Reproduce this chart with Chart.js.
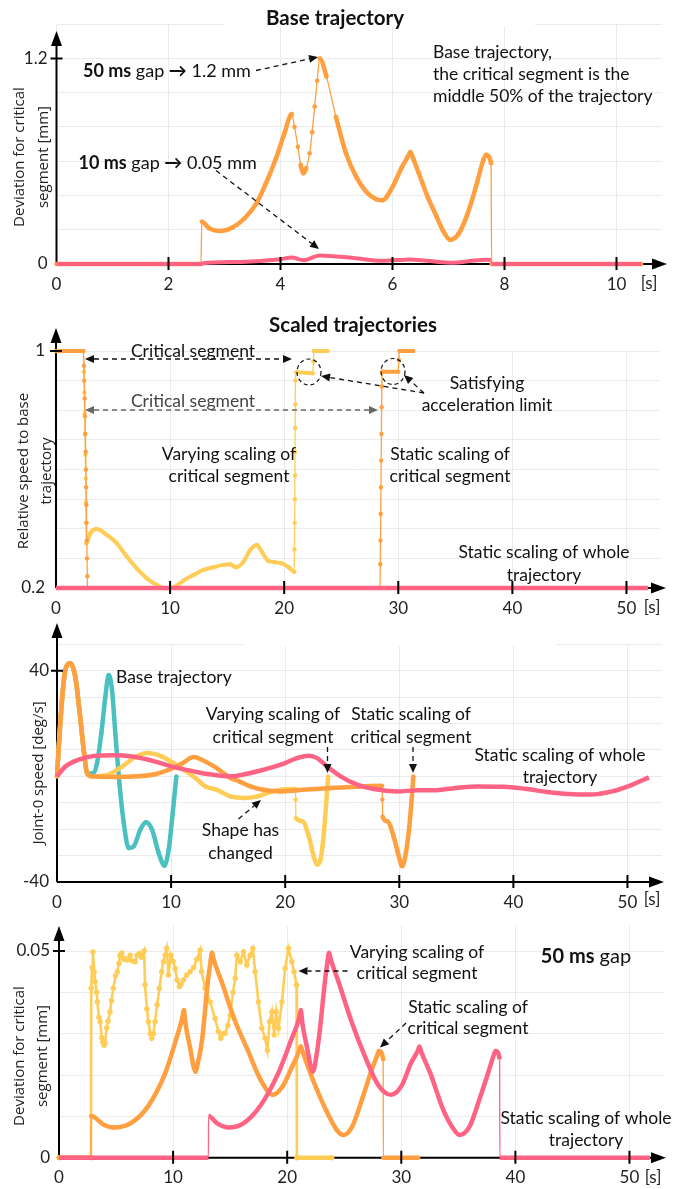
<!DOCTYPE html>
<html>
<head>
<meta charset="utf-8">
<script src="https://cdn.jsdelivr.net/npm/chart.js@4.4.1/dist/chart.umd.min.js"></script>
<style>
  html, body { margin: 0; padding: 0; background: #fff; }
  #wrap { position: relative; width: 675px; height: 1189px; overflow: hidden; background: #fff; }
  #wrap canvas { position: absolute; left: 0; }
</style>
</head>
<body>
<div id="wrap">
  <canvas id="c1" width="675" height="305" style="top:0px"></canvas>
  <canvas id="c2" width="675" height="320" style="top:300px"></canvas>
  <canvas id="c3" width="675" height="305" style="top:605px"></canvas>
  <canvas id="c4" width="675" height="289" style="top:900px"></canvas>
</div>
<script>
// ---------- tick values and labels ----------
const baseTimeTicks = [0, 2, 4, 6, 8, 10];
const scaledTimeTicks = [0, 10, 20, 30, 40, 50];
const devBaseGrid = [0, 0.2, 0.4, 0.6, 0.8, 1.0, 1.2, 1.4];
const devBaseLabels = [[0, '0'], [1.2, '1.2']];
const relSpeedGrid = [0.2, 0.3, 0.4, 0.5, 0.6, 0.7, 0.8, 0.9, 1.0];
const relSpeedLabels = [[0.2, '0.2'], [1, '1']];
const jointSpeedGrid = [-40, -30, -20, -10, 0, 10, 20, 30, 40, 50];
const jointSpeedLabels = [[-40, '-40'], [40, '40']];
const devScaledGrid = [0, 0.01, 0.02, 0.03, 0.04, 0.05];
const devScaledLabels = [[0, '0'], [0.05, '0.05']];

// ---------- base trajectory: deviation [mm] vs time [s] ----------
const baseGap50 = [[0,0],[2.58,0],[2.595,0.247],[2.73,0.208],[2.94,0.193],[3.15,0.214],[3.36,0.267],[3.57,0.354],[3.74,0.471],[3.92,0.617],[4.07,0.763],[4.2,0.876],[4.25,0.8],[4.31,0.685],[4.36,0.58],[4.41,0.53],[4.46,0.56],[4.52,0.646],[4.565,0.77],[4.61,0.919],[4.655,1.07],[4.70,1.2],[4.82,1.094],[4.99,0.86],[5.17,0.646],[5.35,0.51],[5.53,0.422],[5.71,0.378],[5.82,0.372],[6.0,0.45],[6.16,0.56],[6.27,0.625],[6.32,0.653],[6.37,0.615],[6.47,0.53],[6.63,0.39],[6.79,0.275],[6.9,0.196],[7.03,0.141],[7.18,0.176],[7.33,0.284],[7.49,0.451],[7.62,0.605],[7.67,0.637],[7.76,0.588],[7.77,0],[10.44,0]];
const baseGap10 = [[0,0],[2.58,0],[2.6,0.003],[3.3,0.012],[4.0,0.028],[4.2,0.038],[4.41,0.022],[4.7,0.05],[5.3,0.035],[5.83,0.019],[6.32,0.027],[7.03,0.007],[7.67,0.025],[7.76,0.023],[7.77,0],[10.44,0]];

// ---------- scaled trajectories: relative speed vs time [s] ----------
const relVarying = [[0,1],[2.4,1],[2.44,0.93],[2.48,0.86],[2.51,0.79],[2.54,0.72],[2.57,0.65],[2.6,0.57],[2.62,0.49],[2.63,0.42],[2.64,0.351],[3.0,0.385],[3.57,0.399],[4.45,0.379],[5.32,0.351],[6.2,0.306],[7.08,0.266],[7.95,0.233],[8.83,0.21],[9.56,0.199],[10.29,0.202],[11.17,0.225],[12.05,0.244],[12.92,0.261],[13.8,0.27],[14.68,0.278],[15.26,0.28],[15.79,0.27],[16.43,0.289],[17.02,0.328],[17.6,0.345],[18.04,0.322],[18.62,0.291],[19.2,0.287],[19.8,0.283],[20.38,0.27],[20.88,0.255],[20.9,0.33],[20.92,0.42],[20.93,0.5],[20.94,0.58],[20.95,0.66],[20.96,0.74],[20.97,0.82],[20.98,0.9],[21.05,0.928],[22.5,0.925],[22.56,0.965],[22.6,1],[23.8,1]];
const relStaticCritical = [[0,1],[2.4,1],[2.45,0.95],[2.48,0.9],[2.51,0.84],[2.54,0.78],[2.57,0.72],[2.6,0.66],[2.62,0.6],[2.64,0.54],[2.66,0.48],[2.68,0.42],[2.7,0.36],[2.72,0.3],[2.74,0.24],[2.76,0.2],[28.4,0.2],[28.42,0.28],[28.44,0.36],[28.46,0.45],[28.48,0.54],[28.5,0.63],[28.52,0.72],[28.54,0.81],[28.56,0.88],[28.6,0.93],[30.0,0.93],[30.05,0.97],[30.1,1],[31.3,1]];
const relStaticWhole = [[0,0.2],[51.9,0.2]];

// ---------- joint-0 speed [deg/s] vs time [s] ----------
const speedBase = [[0,0],[0.14,10.1],[0.44,29],[0.73,40.3],[1.17,42.8],[1.6,37.8],[1.96,25.2],[2.34,10.1],[2.63,1.3],[2.92,1.0],[3.21,1.3],[3.51,5.0],[3.89,16.4],[4.24,30.2],[4.53,38.4],[4.82,32.8],[5.11,16.4],[5.47,-2.5],[5.85,-17.6],[6.28,-27.1],[6.72,-26.5],[7.3,-20.2],[7.8,-17.4],[8.33,-20.2],[8.91,-29],[9.41,-33.8],[9.79,-27.7],[10.14,-13.9],[10.46,0]];
const speedStaticCritical = [[0,0],[0.14,10.1],[0.44,29],[0.73,40.3],[1.17,42.8],[1.6,37.8],[1.96,25.2],[2.34,10.1],[2.63,1.3],[3.07,0],[5.0,-0.2],[7.0,0],[8.6,0.8],[9.8,2.5],[10.96,4.9],[11.98,7.3],[12.7,6.3],[14.0,3.1],[15.2,-0.6],[15.93,-1.8],[16.96,-3.8],[18.1,-5.1],[19.6,-5.7],[21.05,-5.3],[24.0,-4.4],[26.9,-3.8],[28.5,-3.6],[28.52,-8.8],[28.54,-15.2],[28.95,-17],[29.5,-22.7],[29.96,-30.3],[30.26,-34],[30.58,-29],[30.88,-19],[31.08,-8.8],[31.23,0]];
const speedVarying = [[0,0],[0.14,10.1],[0.44,29],[0.73,40.3],[1.17,42.8],[1.6,37.8],[1.96,25.2],[2.34,10.1],[2.63,1.3],[3.07,0],[4.24,0.3],[5.7,3.7],[6.87,7.3],[7.9,8.8],[9.2,7.5],[10.67,3.7],[12.13,-0.6],[13.0,-3.8],[14.0,-5.1],[15.2,-7.6],[16.37,-8.2],[17.54,-7.6],[18.42,-6.3],[19.6,-5.1],[20.9,-4.8],[20.92,-8.8],[20.94,-15.8],[21.5,-17],[22.07,-22.7],[22.5,-30.3],[22.8,-33.4],[23.1,-31.5],[23.39,-21.4],[23.68,-5.1],[23.77,0]];
const speedStaticWhole = [[0,0],[0.73,3.7],[1.9,6.3],[3.36,7.8],[4.97,8.0],[6.58,7.5],[8.62,5.6],[10.1,3.7],[12.1,1.8],[13.0,1.0],[15.2,0],[16.67,1.0],[18.1,2.5],[19.6,4.4],[21.05,6.9],[22.07,7.8],[22.8,6.9],[23.68,3.7],[24.85,0],[26.3,-3.1],[27.77,-4.8],[29.8,-5.7],[31.6,-5.3],[33.0,-5.3],[34.95,-4.4],[36.85,-3.8],[39.13,-3.9],[41.03,-4.7],[42.94,-5.9],[44.84,-6.7],[46.74,-6.9],[48.65,-5.7],[50.17,-3.6],[51.88,-0.4]];

// ---------- 50 ms gap: deviation [mm] vs time [s] ----------
const devVarying = [[0,0],[2.8,0],[2.82,0.041],[2.9,0.046],[2.97,0.0498],[3.08,0.045],[3.16,0.0426],[3.3,0.040],[3.36,0.0377],[3.5,0.034],[3.6,0.0329],[3.75,0.029],[3.83,0.028],[3.95,0.0272],[4.03,0.0277],[4.18,0.0314],[4.3,0.033],[4.47,0.0353],[4.6,0.038],[4.76,0.041],[4.95,0.044],[5.11,0.045],[5.25,0.047],[5.35,0.049],[5.5,0.0495],[5.65,0.048],[5.79,0.0482],[6.0,0.0478],[6.23,0.049],[6.45,0.0476],[6.67,0.0474],[6.85,0.049],[7.04,0.0494],[7.25,0.0485],[7.46,0.05],[7.54,0.0418],[7.7,0.036],[7.84,0.0329],[8.0,0.030],[8.13,0.0289],[8.28,0.030],[8.42,0.0329],[8.6,0.037],[8.8,0.041],[9.0,0.045],[9.15,0.0474],[9.3,0.049],[9.44,0.0506],[9.59,0.0442],[9.8,0.049],[10.0,0.0475],[10.18,0.0458],[10.35,0.043],[10.55,0.0414],[10.7,0.042],[10.9,0.043],[11.2,0.0442],[11.49,0.045],[11.8,0.046],[12.08,0.048],[12.37,0.0502],[12.5,0.045],[12.8,0.041],[13.25,0.0377],[13.68,0.0337],[13.97,0.0305],[14.18,0.0289],[14.4,0.030],[14.56,0.0301],[14.8,0.032],[15.0,0.0345],[15.25,0.040],[15.44,0.0434],[15.59,0.049],[15.88,0.0474],[16.17,0.0498],[16.46,0.0466],[16.75,0.049],[16.99,0.0506],[17.19,0.045],[17.48,0.0377],[17.78,0.0313],[18.07,0.0289],[18.27,0.026],[18.45,0.0329],[18.66,0.0353],[18.86,0.0297],[19.04,0.0353],[19.24,0.0313],[19.54,0.0377],[19.82,0.0458],[20.11,0.0506],[20.41,0.0474],[20.6,0.045],[20.82,0.0418],[20.85,0],[23.9,0]];
const devStaticCritical = [[0,0],[2.8,0],[2.82,0.0101],[3.96,0.0079],[4.8,0.0073],[6.25,0.0083],[7.77,0.0123],[9.3,0.0204],[10.25,0.0285],[10.8,0.0338],[10.94,0.0357],[11.08,0.0325],[11.47,0.0269],[11.97,0.0208],[12.1,0.022],[12.54,0.0285],[13.03,0.0422],[13.3,0.0478],[13.41,0.0496],[13.55,0.048],[14.25,0.0426],[15.4,0.0333],[16.54,0.026],[17.68,0.0188],[18.75,0.0152],[19.59,0.0172],[20.43,0.022],[21.05,0.0258],[21.19,0.0269],[21.35,0.0256],[22.26,0.0188],[23.4,0.0115],[24.35,0.0067],[24.92,0.0055],[25.69,0.0075],[26.64,0.0148],[27.4,0.0212],[27.9,0.0248],[28.05,0.0258],[28.41,0.0238],[28.43,0],[31.48,0]];
const devStaticWhole = [[0,0],[13.09,0],[13.11,0.0101],[13.87,0.0083],[14.82,0.0073],[16.16,0.0083],[17.68,0.0127],[19.21,0.0204],[20.35,0.0285],[21.05,0.0338],[21.19,0.0357],[21.33,0.0325],[21.72,0.0269],[22.26,0.0208],[22.4,0.022],[22.83,0.0301],[23.29,0.0422],[23.55,0.0478],[23.67,0.0496],[23.82,0.048],[24.54,0.0422],[25.69,0.0325],[26.83,0.0244],[27.97,0.0176],[29.12,0.0152],[30.07,0.0176],[30.83,0.0228],[31.45,0.0259],[31.59,0.0269],[31.75,0.0256],[32.55,0.0204],[33.69,0.0115],[34.64,0.0067],[35.1,0.0055],[35.98,0.0075],[36.93,0.0148],[37.69,0.0212],[38.1,0.0248],[38.26,0.0258],[38.62,0.0238],[38.64,0],[51.8,0]];

// ---------- styling ----------
const PINK = 'rgb(255, 99, 132)';
const ORANGE = 'rgb(255, 159, 64)';
const YELLOW = 'rgb(255, 205, 86)';
const TEAL = 'rgb(75, 192, 192)';
const GRID = '#ebebeb';
const TXT = 'Lato, "DejaVu Sans", sans-serif';
const AXF = '"Open Sans", "DejaVu Sans", sans-serif';
const TEXT_SIZE = 17.5;

function series(points, color, o = {}) {
  return {
    data: points.map(([x, y]) => ({ x, y })),
    borderColor: color,
    backgroundColor: color,
    pointBackgroundColor: color,
    pointBorderWidth: 0,
    pointRadius: o.r ?? 2.2,
    pointHoverRadius: 0,
    borderWidth: o.w ?? 4.5,
    tension: 0,
    cubicInterpolationMode: o.mono === false ? 'default' : 'monotone',
    clip: false,
    fill: false,
    segment: {
      borderWidth: ctx => {
        const dx = Math.abs(ctx.p1.x - ctx.p0.x);
        const dy = Math.abs(ctx.p1.y - ctx.p0.y);
        if (dy > (o.steep ?? 6) * dx) return o.thin ?? 1.3;
        if (o.base && ctx.p0.parsed.y === 0 && ctx.p1.parsed.y === 0) return o.base;
        return undefined;
      }
    }
  };
}

function arrowHead(ctx, x1, y1, x2, y2, len, half) {
  const a = Math.atan2(y2 - y1, x2 - x1);
  const c = Math.cos(a), s = Math.sin(a);
  ctx.beginPath();
  ctx.moveTo(x2, y2);
  ctx.lineTo(x2 - len * c + half * s, y2 - len * s - half * c);
  ctx.lineTo(x2 - len * c - half * s, y2 - len * s + half * c);
  ctx.closePath();
  ctx.fill();
}

function dashedArrow(ctx, a, top) {
  const x1 = a.from[0], y1 = a.from[1] - top, x2 = a.to[0], y2 = a.to[1] - top;
  const len = 9, half = 4;
  const ang = Math.atan2(y2 - y1, x2 - x1);
  const c = Math.cos(ang), s = Math.sin(ang);
  const sx = a.both ? x1 + len * c : x1, sy = a.both ? y1 + len * s : y1;
  ctx.save();
  ctx.strokeStyle = a.color || '#111';
  ctx.fillStyle = a.color || '#111';
  ctx.lineWidth = 1.3;
  ctx.setLineDash([5, 4]);
  ctx.beginPath();
  ctx.moveTo(sx, sy);
  ctx.lineTo(x2 - len * c, y2 - len * s);
  ctx.stroke();
  ctx.setLineDash([]);
  arrowHead(ctx, x1, y1, x2, y2, len, half);
  if (a.both) arrowHead(ctx, x2, y2, x1, y1, len, half);
  ctx.restore();
}

function drawRuns(ctx, item, top) {
  const size = item.size || TEXT_SIZE;
  const runs = item.runs || [[item.text, false]];
  const fontOf = b => `${b ? 'bold ' : ''}${size}px ${TXT}`;
  let total = 0;
  const widths = runs.map(([t, b]) => { ctx.font = fontOf(b); const w = ctx.measureText(t).width; total += w; return w; });
  let x = item.align === 'left' ? item.x : item.x - total / 2;
  ctx.fillStyle = item.color || '#111';
  ctx.textBaseline = 'middle';
  ctx.textAlign = 'left';
  runs.forEach(([t, b], i) => { ctx.font = fontOf(b); ctx.fillText(t, x, item.y - top); x += widths[i]; });
}

const decor = {
  id: 'decor',
  beforeDatasetsDraw(chart, args, o) {
    const ctx = chart.ctx, a = chart.chartArea, top = o.top;
    ctx.save();
    (o.gridGaps || []).forEach(g => {
      const y = chart.scales.y.getPixelForValue(g.v);
      ctx.fillStyle = '#fff';
      ctx.fillRect(g.x1, y - 2, g.x2 - g.x1, 4);
    });
    ctx.strokeStyle = '#000';
    ctx.fillStyle = '#000';
    ctx.lineWidth = 2;
    ctx.beginPath();
    ctx.moveTo(a.left, a.bottom);
    ctx.lineTo(o.xTip - 10, a.bottom);
    ctx.moveTo(a.left, a.bottom);
    ctx.lineTo(a.left, o.yTip - top + 10);
    ctx.stroke();
    arrowHead(ctx, a.left, a.bottom, o.xTip, a.bottom, 15, 5.5);
    arrowHead(ctx, a.left, a.bottom, a.left, o.yTip - top, 15, 5.5);
    ctx.restore();
  },
  afterDatasetsDraw(chart, args, o) {
    const ctx = chart.ctx, a = chart.chartArea, top = o.top;
    const xs = chart.scales.x, ys = chart.scales.y;
    ctx.save();
    ctx.strokeStyle = '#000';
    ctx.lineWidth = 2;
    ctx.beginPath();
    o.xMarks.forEach(v => {
      const x = xs.getPixelForValue(v);
      ctx.moveTo(x, a.bottom - 7);
      ctx.lineTo(x, a.bottom + 6);
    });
    o.yMarks.forEach(v => {
      const y = ys.getPixelForValue(v);
      ctx.moveTo(a.left - 6, y);
      ctx.lineTo(a.left + 6, y);
    });
    ctx.stroke();

    // unit after the last time label
    ctx.fillStyle = '#222';
    ctx.font = `17px ${TXT}`;
    ctx.textAlign = 'center';
    ctx.textBaseline = 'middle';
    ctx.fillText('[s]', o.unit[0], o.unit[1] - top);

    // panel title
    if (o.title) {
      ctx.font = `bold 20.5px ${TXT}`;
      ctx.fillStyle = '#111';
      ctx.fillText(o.title.text, o.title.x, o.title.y - top);
    }

    // rotated axis title
    ctx.font = `15px ${AXF}`;
    ctx.fillStyle = '#222';
    o.yTitle.lines.forEach((t, i) => {
      ctx.save();
      ctx.translate(o.yTitle.xs[i], o.yTitle.y - top);
      ctx.rotate(-Math.PI / 2);
      ctx.textAlign = 'center';
      ctx.textBaseline = 'middle';
      ctx.fillText(t, 0, 0);
      ctx.restore();
    });

    (o.circles || []).forEach(c => {
      ctx.save();
      ctx.strokeStyle = '#111';
      ctx.lineWidth = 1.2;
      ctx.setLineDash([4, 3]);
      ctx.beginPath();
      ctx.ellipse(c[0], c[1] - top, c[2], c[3], 0, 0, Math.PI * 2);
      ctx.stroke();
      ctx.restore();
    });
    (o.arrows || []).forEach(ar => dashedArrow(ctx, ar, top));
    (o.texts || []).forEach(t => drawRuns(ctx, t, top));
    ctx.restore();
  }
};

function labelFrom(pairs) {
  return v => {
    const hit = pairs.find(p => Math.abs(p[0] - v) < 1e-9);
    return hit ? hit[1] : '';
  };
}

function makeChart(id, cfg) {
  const el = document.getElementById(id);
  const H = el.height;
  return new Chart(el, {
    type: 'line',
    data: { datasets: cfg.datasets },
    plugins: [decor],
    options: {
      responsive: false,
      animation: false,
      events: [],
      layout: { padding: { left: 0, top: cfg.area.top, right: 675 - cfg.area.right, bottom: 0 } },
      plugins: { legend: { display: false }, tooltip: { enabled: false }, decor: cfg.decor },
      scales: {
        x: {
          type: 'linear',
          min: 0,
          max: cfg.xMax,
          afterBuildTicks: s => { s.ticks = cfg.xTicks.map(v => ({ value: v })); },
          afterFit: s => { s.height = H - cfg.area.bottom; },
          grid: { color: GRID, lineWidth: 1, drawTicks: false },
          border: { display: false },
          ticks: {
            autoSkip: false, maxRotation: 0, padding: 10, color: '#222',
            font: { family: TXT, size: 17 },
            callback: v => String(v)
          }
        },
        y: {
          type: 'linear',
          min: cfg.yMin,
          max: cfg.yMax,
          afterBuildTicks: s => { s.ticks = cfg.yGrid.map(v => ({ value: v })); },
          afterFit: s => { s.width = cfg.area.left; },
          grid: { color: GRID, lineWidth: 1, drawTicks: false },
          border: { display: false },
          ticks: {
            autoSkip: false, padding: cfg.yPad, color: '#222',
            font: { family: TXT, size: 17 },
            callback: labelFrom(cfg.yLabels)
          }
        }
      }
    }
  });
}

// ---------- panel 1: base trajectory ----------
makeChart('c1', {
  area: { left: 56.5, right: 661.3, top: 24.25, bottom: 264 },
  xMax: 10.8, xTicks: baseTimeTicks,
  yMin: 0, yMax: 1.4, yGrid: devBaseGrid, yLabels: devBaseLabels, yPad: 9,
  datasets: [
    series(baseGap10, PINK, { w: 4, r: 0, steep: 4 }),
    series(baseGap50, ORANGE, { w: 4.5, r: 2.3, steep: 4 })
  ],
  decor: {
    top: 0, xTip: 667, yTip: 31, unit: [649, 284],
    xMarks: [2, 4, 6, 8, 10], yMarks: [1.2],
    gridGaps: [{ v: 1.4, x1: 224, x2: 535 }],
    title: { text: 'Base trajectory', x: 335, y: 18 },
    yTitle: { lines: ['Deviation for critical', 'segment [mm]'], xs: [20, 43.5], y: 157 },
    arrows: [
      { from: [256, 70.5], to: [318, 57] },
      { from: [216, 170.5], to: [319, 249] }
    ],
    texts: [
      { runs: [['50 ms', true], [' gap ', false], ['\u2192', true], [' 1.2 mm', false]], x: 83, y: 71, align: 'left', size: 18 },
      { runs: [['10 ms', true], [' gap ', false], ['\u2192', true], [' 0.05 mm', false]], x: 78.5, y: 163, align: 'left', size: 18 },
      { text: 'Base trajectory,', x: 433, y: 52, align: 'left', size: 17.5 },
      { text: 'the critical segment is the', x: 433, y: 74, align: 'left', size: 17.5 },
      { text: 'middle 50% of the trajectory', x: 433, y: 96, align: 'left', size: 17.5 }
    ]
  }
});

// ---------- panel 2: relative speed of the scaled trajectories ----------
makeChart('c2', {
  area: { left: 56, right: 660.7, top: 51, bottom: 288 },
  xMax: 53, xTicks: scaledTimeTicks,
  yMin: 0.2, yMax: 1.0, yGrid: relSpeedGrid, yLabels: relSpeedLabels, yPad: 11,
  datasets: [
    series(relStaticWhole, PINK, { w: 4.5, r: 0 }),
    series(relStaticCritical, ORANGE, { w: 4, r: 2.2 }),
    series(relVarying, YELLOW, { w: 4, r: 2.2 })
  ],
  decor: {
    top: 300, xTip: 666, yTip: 328, unit: [652, 608],
    xMarks: [10, 20, 30, 40, 50], yMarks: [1],
    title: { text: 'Scaled trajectories', x: 353, y: 325 },
    yTitle: { lines: ['Relative speed to base', 'trajectory'], xs: [24, 47], y: 471 },
    circles: [[309, 372, 12, 13], [393, 371.5, 12, 13]],
    arrows: [
      { from: [85, 359], to: [292, 359], both: true },
      { from: [85, 410], to: [378, 410], both: true, color: '#666' },
      { from: [424, 393], to: [321, 376] },
      { from: [424, 393], to: [404, 375] }
    ],
    texts: [
      { text: 'Critical segment', x: 193, y: 351 },
      { text: 'Critical segment', x: 193, y: 401, color: '#444' },
      { text: 'Satisfying', x: 487, y: 383.5 },
      { text: 'acceleration limit', x: 487, y: 405.5 },
      { text: 'Varying scaling of', x: 229, y: 454 },
      { text: 'critical segment', x: 229, y: 476.5 },
      { text: 'Static scaling of', x: 450, y: 454 },
      { text: 'critical segment', x: 450, y: 476.5 },
      { text: 'Static scaling of whole', x: 544, y: 552 },
      { text: 'trajectory', x: 544, y: 575 }
    ]
  }
});

// ---------- panel 3: joint-0 speed ----------
makeChart('c3', {
  area: { left: 57, right: 661.7, top: 39.3, bottom: 277 },
  xMax: 53, xTicks: scaledTimeTicks,
  yMin: -40, yMax: 50, yGrid: jointSpeedGrid, yLabels: jointSpeedLabels, yPad: 8,
  datasets: [
    series(speedStaticWhole, PINK, { w: 4.5, r: 0, steep: 25 }),
    series(speedStaticCritical, ORANGE, { w: 4.5, r: 2.2, steep: 25 }),
    series(speedVarying, YELLOW, { w: 4.5, r: 2.2, steep: 25 }),
    series(speedBase, TEAL, { w: 4.5, r: 2.2, steep: 25 })
  ],
  decor: {
    top: 605, xTip: 664, yTip: 623, unit: [652, 900],
    xMarks: [10, 20, 30, 40, 50], yMarks: [40],
    gridGaps: [{ v: 50, x1: 245, x2: 556 }],
    yTitle: { lines: ['Joint-0 speed [deg/s]'], xs: [39], y: 773 },
    arrows: [
      { from: [327.5, 747], to: [327.5, 773] },
      { from: [413, 747], to: [413, 773] },
      { from: [238.5, 819], to: [261, 800] }
    ],
    texts: [
      { text: 'Base trajectory', x: 116, y: 677, align: 'left' },
      { text: 'Varying scaling of', x: 273, y: 714 },
      { text: 'critical segment', x: 273, y: 737 },
      { text: 'Static scaling of', x: 411, y: 714 },
      { text: 'critical segment', x: 411, y: 737 },
      { text: 'Static scaling of whole', x: 560, y: 755 },
      { text: 'trajectory', x: 560, y: 777 },
      { text: 'Shape has', x: 240.5, y: 830 },
      { text: 'changed', x: 240.5, y: 853 }
    ]
  }
});

// ---------- panel 4: deviation with a 50 ms gap ----------
makeChart('c4', {
  area: { left: 59, right: 663.7, top: 26.2, bottom: 257.7 },
  xMax: 53, xTicks: scaledTimeTicks,
  yMin: 0, yMax: 0.056, yGrid: devScaledGrid, yLabels: devScaledLabels, yPad: 9,
  datasets: [
    series(devStaticWhole, PINK, { w: 4.5, r: 0, steep: 15 }),
    series(devStaticCritical, ORANGE, { w: 4.5, r: 2.2, steep: 15 }),
    series(devVarying, YELLOW, { w: 2.6, r: 2.7, steep: 1000, base: 4.5, mono: false })
  ],
  decor: {
    top: 900, xTip: 666, yTip: 926, unit: [653, 1178],
    xMarks: [10, 20, 30, 40, 50], yMarks: [0.05],
    yTitle: { lines: ['Deviation for critical', 'segment [mm]'], xs: [19.6, 42.6], y: 1056 },
    arrows: [
      { from: [347.5, 971], to: [298.5, 971] },
      { from: [406, 1023], to: [380, 1047.5] }
    ],
    texts: [
      { text: 'Varying scaling of', x: 417, y: 952 },
      { text: 'critical segment', x: 417, y: 973.5 },
      { runs: [['50 ms', true], [' gap', false]], x: 586, y: 957, size: 20 },
      { text: 'Static scaling of', x: 468, y: 1007 },
      { text: 'critical segment', x: 468, y: 1028.5 },
      { text: 'Static scaling of whole', x: 586, y: 1118 },
      { text: 'trajectory', x: 586, y: 1140 }
    ]
  }
});
</script>
</body>
</html>
